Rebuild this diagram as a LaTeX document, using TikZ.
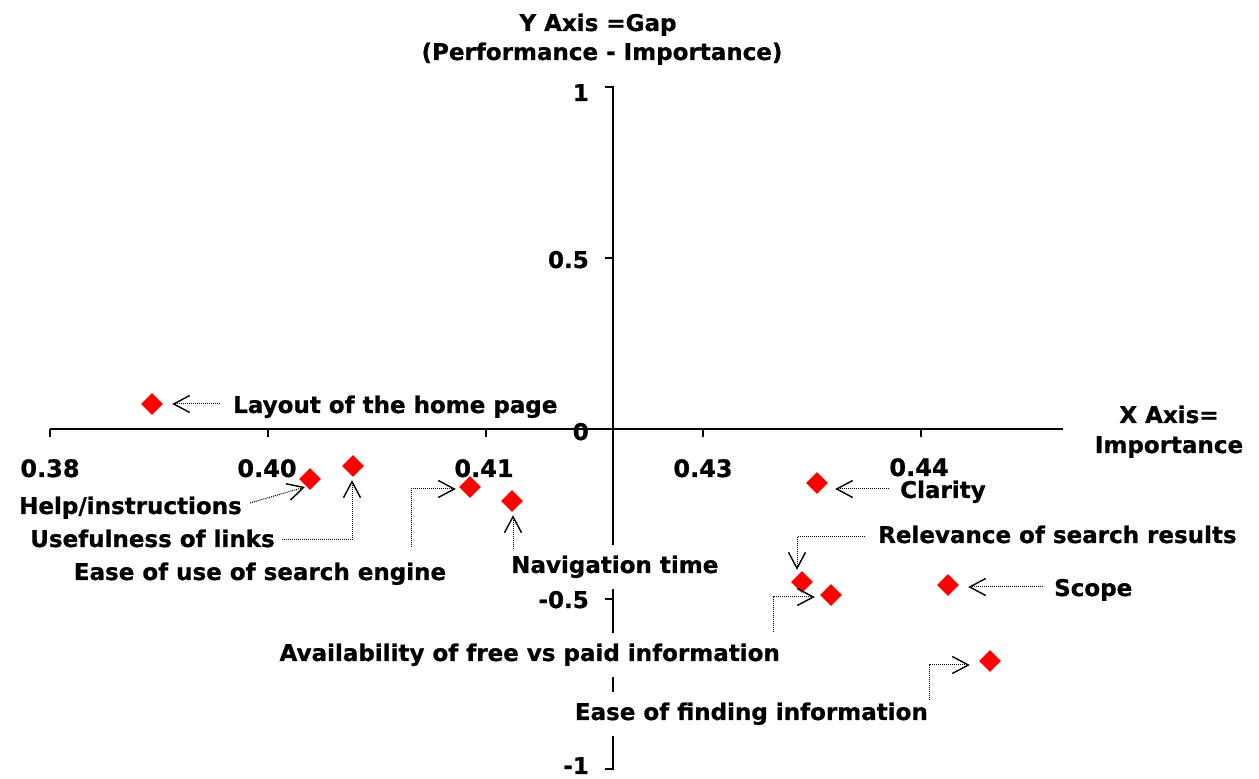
\documentclass[tikz,border=0pt]{standalone}
\usepackage{fontspec}
\setmainfont{DejaVu Sans}[BoldFeatures={FakeBold=0.8}]
\usetikzlibrary{arrows.meta,shapes.geometric,calc}
\begin{document}
\begin{tikzpicture}[x=1pt,y=1pt,
  axisline/.style={line width=2pt},
  lbl/.style={font=\fontsize{23}{27}\selectfont\bfseries, inner sep=0pt, text=black},
  ticklbl/.style={font=\fontsize{24}{28}\selectfont\bfseries, inner sep=0pt, text=black},
  lblw/.style={lbl, fill=white, inner xsep=3pt, inner ysep=11pt},
  mk/.style={diamond, fill=red, minimum width=22pt, minimum height=22pt, inner sep=0pt},
  conn/.style={line width=1pt, dash pattern=on 1pt off 1pt,
    -{Straight Barb[length=16pt,width=17pt,line width=1.4pt]}}
]
\useasboundingbox (0,0) rectangle (1259,779);
\fill[white] (0,0) rectangle (1259,779);

% axes
\draw[axisline] (50,350) -- (1063,350);
\foreach \x in {50,267.75,485.5,703.25,921} \draw[axisline] (\x,350) -- (\x,342);
\draw[axisline] (605,692) -- (613,692) -- (613,10) -- (605,10);
\foreach \y in {180,350,520.5} \draw[axisline] (613,\y) -- (605,\y);

% titles
\node[lbl, anchor=base] (ttlA) at (598,748) {Y Axis =Gap};
\node[lbl, anchor=base] (ttlB) at (602,719) {(Performance - Importance)};
\node[lbl, anchor=base] (xttlA) at (1169,356) {X Axis=};
\node[lbl, anchor=base] (xttlB) at (1169,326) {Importance};

% tick labels
\node[ticklbl, anchor=base] (x1) at (50,302) {0.38};
\node[ticklbl, anchor=base] (x2) at (267,302) {0.40};
\node[ticklbl, anchor=base] (x3) at (484,302) {0.41};
\node[ticklbl, anchor=base] (x4) at (703,302) {0.43};
\node[ticklbl, anchor=base] (x5) at (919,303) {0.44};
\node[lbl, anchor=base east] (y1) at (589,678) {1};
\node[lbl, anchor=base east] (y2) at (589,511) {0.5};
\node[lbl, anchor=base east] (y3) at (589,339) {0};
\node[lbl, anchor=base east] (y4) at (589,171) {-0.5};
\node[lbl, anchor=base east] (y5) at (589,5) {-1};

% item labels
\node[lbl, anchor=base west] (lLay) at (233,366) {Layout of the home page};
\node[lbl, anchor=base east] (lHelp) at (242,265) {Help/instructions};
\node[lbl, anchor=base east] (lUse) at (275,232) {Usefulness of links};
\node[lbl, anchor=base] (lEase) at (260,199) {Ease of use of search engine};
\node[lblw, anchor=base west] (lNav) at (508,206) {Navigation time};
\node[lbl, anchor=base west] (lClar) at (900,281) {Clarity};
\node[lbl, anchor=base west] (lRel) at (878,236) {Relevance of search results};
\node[lbl, anchor=base west] (lScope) at (1054,183) {Scope};
\node[lblw, anchor=base east] (lAvail) at (783,118) {Availability of free vs paid information};
\node[lblw, anchor=base east] (lFind) at (931,59) {Ease of finding information};

% markers
\node[mk] (dLay) at (152,375) {};
\node[mk] (dHelp) at (310,300) {};
\node[mk] (dUse) at (353,313) {};
\node[mk] (dEase) at (470,292) {};
\node[mk] (dNav) at (512,278) {};
\node[mk] (dClar) at (817,296) {};
\node[mk] (dRel) at (802,197) {};
\node[mk] (dAvail) at (831,184) {};
\node[mk] (dScope) at (948,194) {};
\node[mk] (dFind) at (990,118) {};

% connector tails
\coordinate (tLay) at (220,375);
\coordinate (tHelp) at (250,276);
\coordinate (tUse) at (282,239);
\coordinate (tEase) at (411,232);
\coordinate (tNav) at (513,230);
\coordinate (tClar) at (889,290);
\coordinate (tRel) at (865,242);
\coordinate (tScope) at (1043,192);
\coordinate (tAvail) at (773,147);
\coordinate (tFind) at (929,79);

% connectors
\draw[conn] (tLay) -- ($(dLay.east)+(9,0)$);
\draw[conn] (tHelp) -- ($(dHelp.center)+(-5,-8)$);
\draw[conn] (tUse) -| ($(dUse.south)+(-1,-3)$);
\draw[conn] (tEase) |- ($(dEase.west)+(-3,-2)$);
\draw[conn] (tNav) -- ($(dNav.south)+(1,-3)$);
\draw[conn] (tClar) -- ($(dClar.east)+(7,-6)$);
\draw[conn] (tRel) -| ($(dRel.north)+(-5,1)$);
\draw[conn] (tScope) -- ($(dScope.east)+(9,-2)$);
\draw[conn] (tAvail) |- ($(dAvail.west)+(-5,-2)$);
\draw[conn] (tFind) |- ($(dFind.west)+(-9,-4)$);
\end{tikzpicture}
\end{document}
